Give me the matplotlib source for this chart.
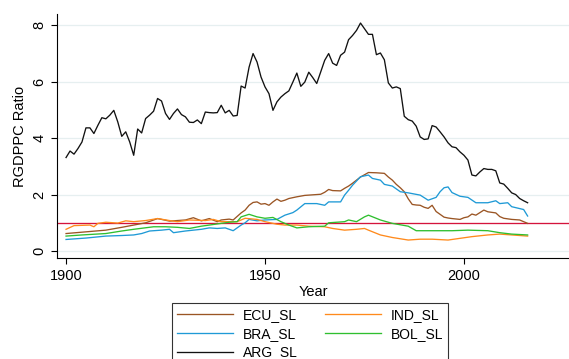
import matplotlib.pyplot as plt

plt.rcParams['font.family'] = ['Liberation Sans', 'DejaVu Sans']

# Argentina, annual 1900-2016
arg_years = list(range(1900, 2017))
arg_sl = [3.31, 3.54, 3.43, 3.63, 3.86, 4.36, 4.36, 4.16, 4.45, 4.72,
          4.68, 4.81, 4.98, 4.57, 4.06, 4.22, 3.86, 3.39, 4.32, 4.18,
          4.69, 4.81, 4.95, 5.40, 5.31, 4.87, 4.66, 4.87, 5.03, 4.83,
          4.75, 4.56, 4.55, 4.64, 4.51, 4.92, 4.90, 4.89, 4.90, 5.16,
          4.89, 4.98, 4.78, 4.80, 5.84, 5.77, 6.51, 6.99, 6.69, 6.16,
          5.81, 5.57, 4.98, 5.28, 5.45, 5.57, 5.67, 5.98, 6.30, 5.83,
          5.98, 6.33, 6.14, 5.93, 6.34, 6.75, 6.99, 6.65, 6.57, 6.93,
          7.04, 7.48, 7.63, 7.81, 8.07, 7.87, 7.67, 7.67, 6.95, 7.01,
          6.77, 5.95, 5.77, 5.81, 5.75, 4.77, 4.65, 4.60, 4.42, 4.04,
          3.95, 3.97, 4.44, 4.39, 4.22, 4.04, 3.83, 3.69, 3.66, 3.51,
          3.39, 3.22, 2.69, 2.66, 2.80, 2.92, 2.89, 2.89, 2.84, 2.41,
          2.37, 2.22, 2.06, 2.00, 1.86, 1.78, 1.71]

ecu_years = [1900, 1905, 1910, 1914, 1917, 1920, 1923, 1926, 1928, 1930, 1932,
             1934, 1936, 1938, 1939, 1941, 1942, 1944, 1945, 1946, 1947, 1948,
             1949, 1950, 1951, 1952, 1953, 1954, 1955, 1956, 1958, 1960, 1962,
             1964, 1965, 1966, 1967, 1969, 1970, 1971, 1972, 1973, 1974, 1975,
             1976, 1978, 1980, 1981, 1982, 1983, 1984, 1985, 1986, 1987, 1988,
             1989, 1990, 1991, 1992, 1993, 1994, 1995, 1996, 1997, 1999, 2000,
             2001, 2002, 2003, 2004, 2005, 2006, 2007, 2008, 2009, 2010, 2012,
             2014, 2016]
ecu_sl = [0.62, 0.68, 0.74, 0.84, 0.92, 1.00, 1.15, 1.06, 1.08, 1.10, 1.18,
          1.07, 1.15, 1.04, 1.10, 1.13, 1.10, 1.35, 1.45, 1.62, 1.72, 1.74,
          1.66, 1.68, 1.62, 1.74, 1.84, 1.76, 1.80, 1.86, 1.92, 1.97, 1.99,
          2.01, 2.08, 2.18, 2.14, 2.13, 2.22, 2.30, 2.40, 2.51, 2.62, 2.70,
          2.78, 2.77, 2.75, 2.62, 2.51, 2.36, 2.24, 2.10, 1.85, 1.65, 1.63,
          1.62, 1.55, 1.51, 1.62, 1.40, 1.30, 1.20, 1.17, 1.15, 1.12, 1.18,
          1.21, 1.31, 1.27, 1.36, 1.45, 1.39, 1.37, 1.35, 1.22, 1.16, 1.12,
          1.10, 0.98]

bra_years = [1900, 1905, 1910, 1914, 1917, 1919, 1921, 1924, 1926, 1927, 1930,
             1934, 1936, 1938, 1940, 1942, 1944, 1945, 1946, 1948, 1950, 1953,
             1955, 1957, 1958, 1960, 1963, 1965, 1966, 1969, 1970, 1971, 1972,
             1973, 1974, 1976, 1977, 1979, 1980, 1982, 1984, 1986, 1989, 1991,
             1993, 1994, 1995, 1996, 1997, 1999, 2001, 2003, 2006, 2008, 2009,
             2011, 2012, 2015, 2016]
bra_sl = [0.41, 0.46, 0.53, 0.55, 0.57, 0.62, 0.71, 0.74, 0.77, 0.65, 0.71,
          0.77, 0.82, 0.80, 0.82, 0.72, 0.92, 1.00, 1.12, 1.07, 1.10, 1.12,
          1.27, 1.36, 1.45, 1.68, 1.68, 1.62, 1.74, 1.74, 1.98, 2.15, 2.33,
          2.48, 2.63, 2.69, 2.57, 2.51, 2.36, 2.30, 2.10, 2.06, 1.98, 1.80,
          1.90, 2.10, 2.24, 2.27, 2.07, 1.94, 1.90, 1.71, 1.71, 1.78, 1.68,
          1.71, 1.57, 1.47, 1.24]

ind_years = [1900, 1902, 1906, 1907, 1908, 1910, 1913, 1915, 1917, 1920, 1923,
             1926, 1928, 1931, 1935, 1937, 1939, 1943, 1945, 1948, 1950, 1953,
             1955, 1958, 1961, 1965, 1967, 1970, 1973, 1975, 1976, 1979, 1982,
             1986, 1989, 1992, 1996, 1999, 2002, 2006, 2009, 2012, 2016]
ind_sl = [0.77, 0.90, 0.92, 0.86, 0.98, 1.02, 0.99, 1.07, 1.04, 1.08, 1.15,
          1.08, 1.04, 1.10, 1.08, 1.12, 1.04, 1.04, 1.16, 1.12, 1.04, 0.95,
          0.92, 0.92, 0.88, 0.86, 0.80, 0.74, 0.77, 0.80, 0.74, 0.57, 0.48,
          0.39, 0.42, 0.42, 0.39, 0.45, 0.51, 0.57, 0.60, 0.57, 0.53]

bol_years = [1900, 1904, 1910, 1914, 1917, 1922, 1925, 1928, 1931, 1934, 1936,
             1939, 1941, 1943, 1944, 1946, 1948, 1950, 1952, 1954, 1956, 1958,
             1961, 1965, 1966, 1970, 1971, 1973, 1975, 1976, 1979, 1982, 1986,
             1988, 1991, 1994, 1997, 2001, 2006, 2009, 2012, 2016]
bol_sl = [0.53, 0.57, 0.62, 0.71, 0.77, 0.86, 0.86, 0.84, 0.80, 0.88, 0.92,
          0.98, 1.02, 1.04, 1.21, 1.30, 1.21, 1.16, 1.19, 1.04, 0.92, 0.82,
          0.86, 0.88, 1.00, 1.04, 1.10, 1.04, 1.21, 1.27, 1.10, 0.98, 0.88,
          0.72, 0.72, 0.72, 0.72, 0.74, 0.72, 0.65, 0.60, 0.57]

series = [
    ('ECU_SL', ecu_years, ecu_sl, '#9a5524'),
    ('BRA_SL', bra_years, bra_sl, '#1f9ad6'),
    ('ARG_SL', arg_years, arg_sl, '#111111'),
    ('IND_SL', ind_years, ind_sl, '#ff8a1c'),
    ('BOL_SL', bol_years, bol_sl, '#2fbf2f'),
]

fig = plt.figure(figsize=(5.69, 3.59), dpi=100)
ax = fig.add_axes([0.100, 0.281, 0.900, 0.680])

for label, yrs, vals, color in series:
    ax.plot(yrs, vals, color=color, lw=0.95, label=label)

ax.axhline(1, color='#d4143c', lw=0.95, zorder=1)

ax.set_xlim(1897.7, 2026.4)
ax.set_ylim(-0.25, 8.39)
ax.set_xticks([1900, 1950, 2000])
ax.set_yticks([0, 2, 4, 6, 8])
for lbl in ax.get_yticklabels():
    lbl.set_rotation(90)
    lbl.set_va('center')
ax.tick_params(labelsize=10.5, length=4, width=0.8, colors='black')
ax.grid(axis='y', color='#e6eff0', lw=0.9)
ax.set_axisbelow(True)
for side in ['top', 'right']:
    ax.spines[side].set_visible(False)
ax.set_xlabel('Year', fontsize=10.5, labelpad=2)
ax.set_ylabel('RGDPPC Ratio', fontsize=10.5, labelpad=4)

leg = fig.legend(ncol=2, loc='upper left', bbox_to_anchor=(0.303, 0.155),
                 fontsize=10, frameon=True, fancybox=False, edgecolor='black',
                 handlelength=4.0, labelspacing=0.33, columnspacing=2.0,
                 borderpad=0.35, borderaxespad=0, handletextpad=0.7)
leg.get_frame().set_linewidth(0.8)

fig.savefig('out.png', dpi=100)
